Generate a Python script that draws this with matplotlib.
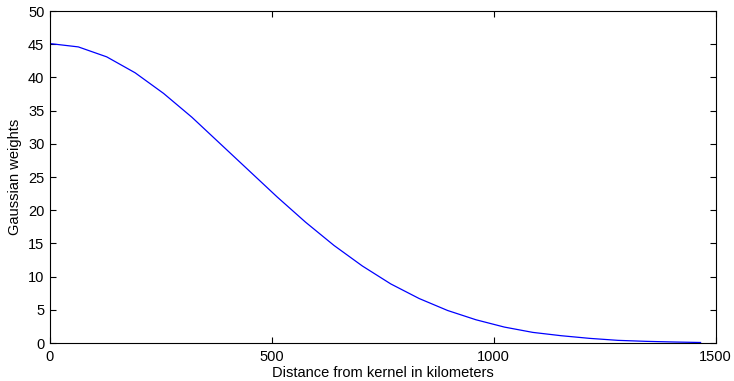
import numpy as np
import matplotlib
matplotlib.use("Agg")
import matplotlib.pyplot as plt

# distance (km) and weight values
distance = [0, 64, 128, 192, 256, 320, 384, 448, 512, 576, 640, 704, 768,
            832, 896, 960, 1024, 1088, 1152, 1216, 1280, 1344, 1408, 1466]
weights = [45.1, 44.6, 43.1, 40.7, 37.6, 34.0, 30.0, 26.0, 22.0, 18.2, 14.7,
           11.6, 8.9, 6.7, 4.9, 3.5, 2.4, 1.6, 1.1, 0.7, 0.4, 0.25, 0.15, 0.08]

x_ticks = [0, 500, 1000, 1500]
y_ticks = [0, 5, 10, 15, 20, 25, 30, 35, 40, 45, 50]

plt.rcParams['font.family'] = ['Liberation Sans', 'DejaVu Sans']

fig = plt.figure(figsize=(7.34, 3.81), dpi=100)
ax = fig.add_axes([0.068, 0.0997, 0.907, 0.8713])
ax.plot(distance, weights, color='#0000ff', lw=0.9)

ax.set_xlim(0, 1500)
ax.set_ylim(0, 50)
ax.set_xticks(x_ticks)
ax.set_yticks(y_ticks)
ax.tick_params(direction='in', length=4, width=0.8, labelsize=10.5,
               top=True, right=True)
ax.tick_params(axis='x', pad=5)
ax.tick_params(axis='y', pad=4)
for s in ax.spines.values():
    s.set_linewidth(0.8)

ax.set_xlabel("Distance from kernel in kilometers", fontsize=10.5, labelpad=1.5)
ax.set_ylabel("Gaussian weights", fontsize=10.5, labelpad=4)

fig.savefig("out.png", dpi=100)
